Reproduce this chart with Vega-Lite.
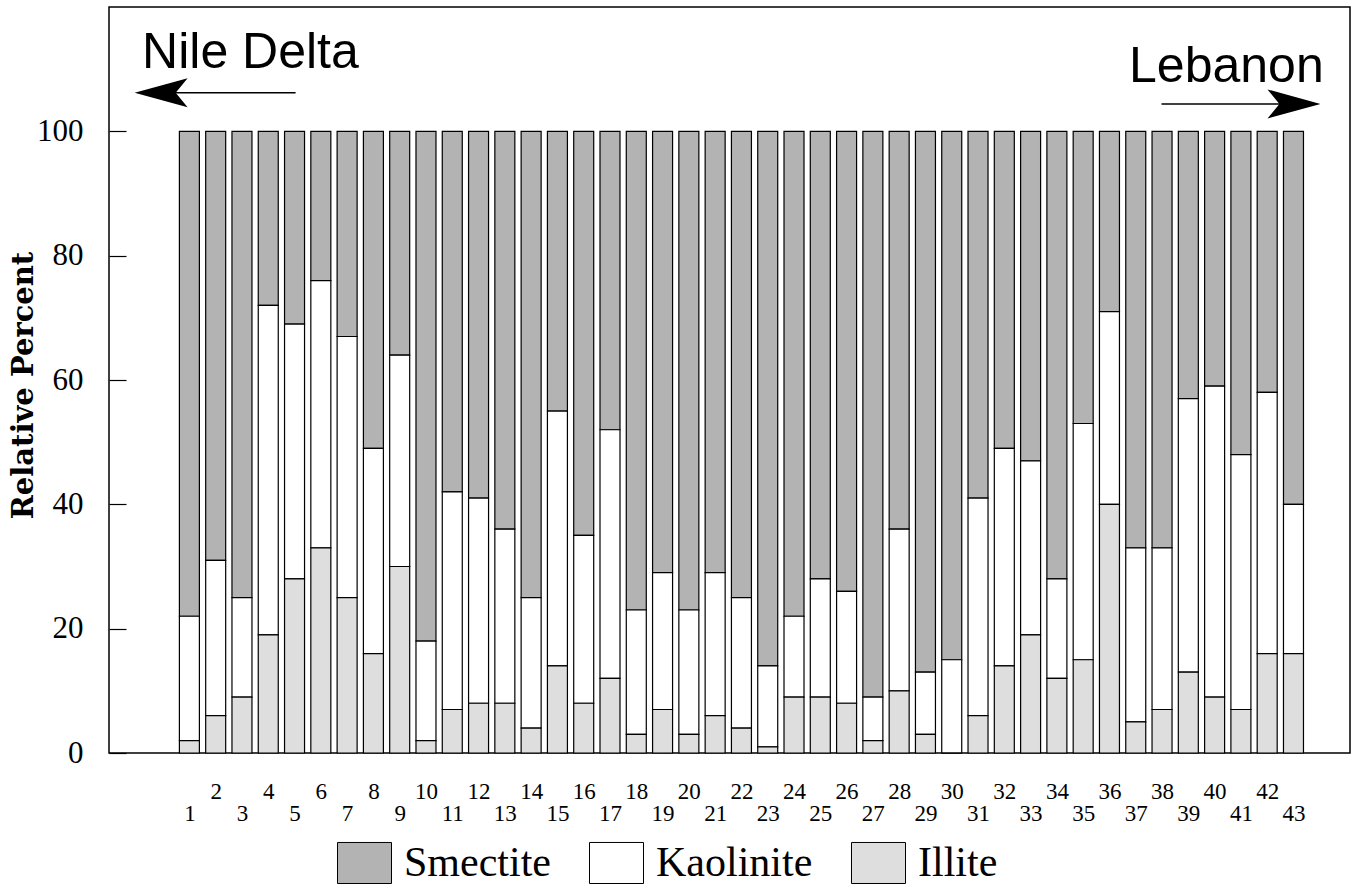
{
  "$schema": "https://vega.github.io/schema/vega-lite/v6.json",
  "autosize": {"type": "none"},
  "padding": {"left": 109, "top": 7, "right": 8, "bottom": 135},
  "width": 1241,
  "height": 746,
  "background": "white",
  "config": {
    "view": {"stroke": "black", "strokeWidth": 1.5},
    "axis": {"grid": false}
  },
  "resolve": {"axis": {"x": "independent"}},
  "layer": [
    {
      "data": {
        "values": [
          {"site": 1, "Illite": 2, "Kaolinite": 20, "Smectite": 78},
          {"site": 2, "Illite": 6, "Kaolinite": 25, "Smectite": 69},
          {"site": 3, "Illite": 9, "Kaolinite": 16, "Smectite": 75},
          {"site": 4, "Illite": 19, "Kaolinite": 53, "Smectite": 28},
          {"site": 5, "Illite": 28, "Kaolinite": 41, "Smectite": 31},
          {"site": 6, "Illite": 33, "Kaolinite": 43, "Smectite": 24},
          {"site": 7, "Illite": 25, "Kaolinite": 42, "Smectite": 33},
          {"site": 8, "Illite": 16, "Kaolinite": 33, "Smectite": 51},
          {"site": 9, "Illite": 30, "Kaolinite": 34, "Smectite": 36},
          {"site": 10, "Illite": 2, "Kaolinite": 16, "Smectite": 82},
          {"site": 11, "Illite": 7, "Kaolinite": 35, "Smectite": 58},
          {"site": 12, "Illite": 8, "Kaolinite": 33, "Smectite": 59},
          {"site": 13, "Illite": 8, "Kaolinite": 28, "Smectite": 64},
          {"site": 14, "Illite": 4, "Kaolinite": 21, "Smectite": 75},
          {"site": 15, "Illite": 14, "Kaolinite": 41, "Smectite": 45},
          {"site": 16, "Illite": 8, "Kaolinite": 27, "Smectite": 65},
          {"site": 17, "Illite": 12, "Kaolinite": 40, "Smectite": 48},
          {"site": 18, "Illite": 3, "Kaolinite": 20, "Smectite": 77},
          {"site": 19, "Illite": 7, "Kaolinite": 22, "Smectite": 71},
          {"site": 20, "Illite": 3, "Kaolinite": 20, "Smectite": 77},
          {"site": 21, "Illite": 6, "Kaolinite": 23, "Smectite": 71},
          {"site": 22, "Illite": 4, "Kaolinite": 21, "Smectite": 75},
          {"site": 23, "Illite": 1, "Kaolinite": 13, "Smectite": 86},
          {"site": 24, "Illite": 9, "Kaolinite": 13, "Smectite": 78},
          {"site": 25, "Illite": 9, "Kaolinite": 19, "Smectite": 72},
          {"site": 26, "Illite": 8, "Kaolinite": 18, "Smectite": 74},
          {"site": 27, "Illite": 2, "Kaolinite": 7, "Smectite": 91},
          {"site": 28, "Illite": 10, "Kaolinite": 26, "Smectite": 64},
          {"site": 29, "Illite": 3, "Kaolinite": 10, "Smectite": 87},
          {"site": 30, "Illite": 0, "Kaolinite": 15, "Smectite": 85},
          {"site": 31, "Illite": 6, "Kaolinite": 35, "Smectite": 59},
          {"site": 32, "Illite": 14, "Kaolinite": 35, "Smectite": 51},
          {"site": 33, "Illite": 19, "Kaolinite": 28, "Smectite": 53},
          {"site": 34, "Illite": 12, "Kaolinite": 16, "Smectite": 72},
          {"site": 35, "Illite": 15, "Kaolinite": 38, "Smectite": 47},
          {"site": 36, "Illite": 40, "Kaolinite": 31, "Smectite": 29},
          {"site": 37, "Illite": 5, "Kaolinite": 28, "Smectite": 67},
          {"site": 38, "Illite": 7, "Kaolinite": 26, "Smectite": 67},
          {"site": 39, "Illite": 13, "Kaolinite": 44, "Smectite": 43},
          {"site": 40, "Illite": 9, "Kaolinite": 50, "Smectite": 41},
          {"site": 41, "Illite": 7, "Kaolinite": 41, "Smectite": 52},
          {"site": 42, "Illite": 16, "Kaolinite": 42, "Smectite": 42},
          {"site": 43, "Illite": 16, "Kaolinite": 24, "Smectite": 60}
        ]
      },
      "transform": [
        {"fold": ["Smectite", "Kaolinite", "Illite"], "as": ["mineral", "pct"]}
      ],
      "mark": {"type": "bar", "width": 20, "stroke": "black", "strokeWidth": 1.2},
      "encoding": {
        "x": {
          "field": "site",
          "type": "quantitative",
          "scale": {"domain": [-1.868, 44.96], "nice": false, "zero": false},
          "axis": {
            "orient": "bottom",
            "values": [1,3,5,7,9,11,13,15,17,19,21,23,25,27,29,31,33,35,37,39,41,43],
            "ticks": false,
            "domain": false,
            "title": null,
            "labelFont": "Liberation Serif",
            "labelFontSize": 23,
            "labelColor": "black",
            "labelBaseline": "top",
            "labelFlush": false,
            "labelOverlap": false,
            "labelPadding": 49
          }
        },
        "y": {
          "field": "pct",
          "type": "quantitative",
          "stack": "zero",
          "scale": {"domain": [0, 120], "nice": false},
          "axis": {
            "values": [0, 20, 40, 60, 80, 100],
            "domain": false,
            "tickSize": -17,
            "tickWidth": 1.2,
            "tickColor": "black",
            "labelPadding": 43,
            "labelFont": "Liberation Serif",
            "labelFontSize": 31,
            "labelColor": "black",
            "title": "Relative Percent",
            "titleFont": "DejaVu Serif",
            "titleFontWeight": "bold",
            "titleFontSize": 29,
            "titleColor": "black",
            "titleX": -77,
            "titleY": 378,
            "titleAngle": -90,
            "titleAlign": "center",
            "titleBaseline": "alphabetic"
          }
        },
        "color": {
          "field": "mineral",
          "type": "nominal",
          "scale": {"domain": ["Smectite", "Kaolinite", "Illite"], "range": ["#b3b3b3", "#ffffff", "#dedede"]},
          "legend": {
            "title": null,
            "orient": "none",
            "legendX": 228,
            "legendY": 828,
            "direction": "horizontal",
            "padding": 0,
            "symbolType": "M-1,-0.76H1V0.76H-1Z",
            "symbolSize": 2916,
            "symbolStrokeColor": "black",
            "symbolStrokeWidth": 1,
            "symbolOpacity": 1,
            "labelFont": "Liberation Serif",
            "labelFontSize": 42,
            "labelColor": "black",
            "labelOffset": 12,
            "columnPadding": 36
          }
        },
        "order": {"field": "mineral", "sort": "ascending"}
      }
    },
    {
      "data": {"values": [{}]},
      "mark": {"type": "text", "text": "Nile Delta", "font": "Liberation Sans", "fontSize": 50, "align": "left", "baseline": "alphabetic", "color": "black"},
      "encoding": {
        "x": {
          "datum": -0.8,
          "type": "quantitative",
          "axis": {
            "orient": "bottom",
            "values": [2,4,6,8,10,12,14,16,18,20,22,24,26,28,30,32,34,36,38,40,42],
            "ticks": false,
            "domain": false,
            "grid": false,
            "title": null,
            "labelFont": "Liberation Serif",
            "labelFontSize": 23,
            "labelColor": "black",
            "labelBaseline": "top",
            "labelFlush": false,
            "labelOverlap": false,
            "labelPadding": 27
          }
        },
        "y": {"datum": 110.2, "type": "quantitative"}
      }
    },
    {
      "data": {"values": [{}]},
      "mark": {"type": "text", "text": "Lebanon", "font": "Liberation Sans", "fontSize": 50, "align": "right", "baseline": "alphabetic", "color": "black"},
      "encoding": {
        "x": {"datum": 44.15, "type": "quantitative", "axis": null},
        "y": {"datum": 107.9, "type": "quantitative"}
      }
    },
    {
      "data": {"values": [{}]},
      "mark": {"type": "rule", "color": "black", "strokeWidth": 1.5},
      "encoding": {
        "x": {"datum": -0.9, "type": "quantitative", "axis": null},
        "x2": {"datum": 5.04},
        "y": {"datum": 106.2, "type": "quantitative"}
      }
    },
    {
      "data": {"values": [{}]},
      "mark": {"type": "point", "shape": "M1,-0.55L-1,0L1,0.55L0.55,0Z", "size": 2809, "filled": true, "color": "black", "opacity": 1},
      "encoding": {
        "x": {"datum": -0.076, "type": "quantitative", "axis": null},
        "y": {"datum": 106.2, "type": "quantitative"}
      }
    },
    {
      "data": {"values": [{}]},
      "mark": {"type": "rule", "color": "black", "strokeWidth": 1.5},
      "encoding": {
        "x": {"datum": 37.98, "type": "quantitative", "axis": null},
        "x2": {"datum": 43.9},
        "y": {"datum": 104.4, "type": "quantitative"}
      }
    },
    {
      "data": {"values": [{}]},
      "mark": {"type": "point", "shape": "M-1,-0.55L1,0L-1,0.55L-0.55,0Z", "size": 2809, "filled": true, "color": "black", "opacity": 1},
      "encoding": {
        "x": {"datum": 43.02, "type": "quantitative", "axis": null},
        "y": {"datum": 104.4, "type": "quantitative"}
      }
    }
  ]
}
